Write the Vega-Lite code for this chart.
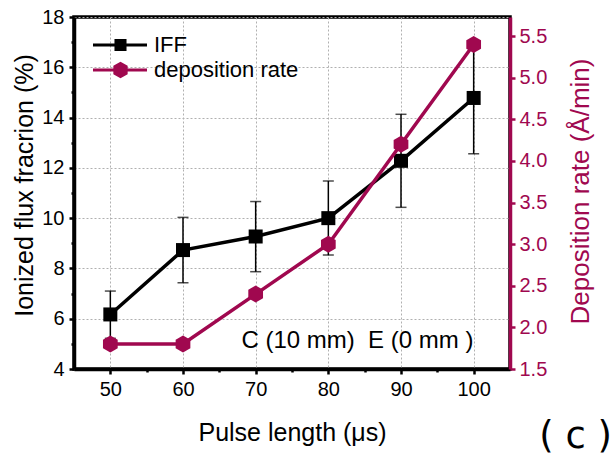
{
  "$schema": "https://vega.github.io/schema/vega-lite/v6.json",
  "width": 436,
  "height": 352,
  "autosize": {"type": "none"},
  "padding": {"left": 74, "top": 17, "right": 106, "bottom": 94},
  "background": "white",
  "config": {
    "font": "Liberation Sans",
    "view": {"stroke": "black", "strokeWidth": 3.5},
    "axis": {"titleFontWeight": "normal", "labelFont": "Liberation Sans", "titleFont": "Liberation Sans"}
  },
  "title": {
    "text": "( c )",
    "orient": "bottom",
    "anchor": "end",
    "frame": "group",
    "font": "DejaVu Sans",
    "fontSize": 37,
    "fontWeight": "normal",
    "color": "black",
    "dx": 102,
    "offset": -26
  },
  "data": {
    "values": [
      {"x": 50, "iff": 6.17, "lo": 5.22, "hi": 7.1, "dep": 1.8},
      {"x": 60, "iff": 8.73, "lo": 7.43, "hi": 10.03, "dep": 1.8},
      {"x": 70, "iff": 9.27, "lo": 7.87, "hi": 10.66, "dep": 2.4},
      {"x": 80, "iff": 10.0, "lo": 8.53, "hi": 11.48, "dep": 3.0},
      {"x": 90, "iff": 12.28, "lo": 10.43, "hi": 14.13, "dep": 4.2},
      {"x": 100, "iff": 14.78, "lo": 12.56, "hi": 17.0, "dep": 5.4}
    ]
  },
  "layer": [
    {
      "layer": [
        {
          "layer": [
            {
              "mark": {"type": "rule", "color": "black", "strokeWidth": 1.5},
              "encoding": {
                "x": {
                  "field": "x", "type": "quantitative",
                  "scale": {"domain": [45, 105], "nice": false, "zero": false},
                  "axis": {
                    "title": "Pulse length (\u03bcs)",
                    "values": [50, 60, 70, 80, 90, 100],
                    "domainColor": "black", "domainWidth": 3.5,
                    "tickColor": "black", "tickWidth": 2.5, "tickSize": 5,
                    "labelFontSize": 20, "labelColor": "black", "labelPadding": 5,
                    "titleFontSize": 25, "titleColor": "black",
                    "titleBaseline": "alphabetic", "titleY": 71,
                    "grid": true, "gridColor": "#b0b0b0", "gridDash": [2, 2], "gridWidth": 1
                  }
                },
                "y": {
                  "field": "lo", "type": "quantitative",
                  "scale": {"domain": [4, 18], "nice": false, "zero": false},
                  "axis": {
                    "title": "Ionized flux fracrion (%)",
                    "values": [4, 6, 8, 10, 12, 14, 16, 18],
                    "domainColor": "black", "domainWidth": 3.5,
                    "tickColor": "black", "tickWidth": 2.5, "tickSize": 5,
                    "labelFontSize": 20, "labelColor": "black", "labelPadding": 5,
                    "titleFontSize": 25, "titleColor": "black",
                    "titleX": -50, "titleY": 168, "titleBaseline": "middle", "titleAngle": 270,
                    "grid": true, "gridColor": "#b0b0b0", "gridDash": [2, 2], "gridWidth": 1
                  }
                },
                "y2": {"field": "hi"}
              }
            },
            {
              "mark": {"type": "tick", "orient": "horizontal", "color": "black", "size": 11, "thickness": 1.5},
              "encoding": {
                "x": {"field": "x", "type": "quantitative"},
                "y": {"field": "lo", "type": "quantitative"}
              }
            },
            {
              "mark": {"type": "tick", "orient": "horizontal", "color": "black", "size": 11, "thickness": 1.5},
              "encoding": {
                "x": {"field": "x", "type": "quantitative"},
                "y": {"field": "hi", "type": "quantitative"}
              }
            },
            {
              "mark": {"type": "line", "strokeWidth": 3.5},
              "encoding": {
                "x": {"field": "x", "type": "quantitative"},
                "y": {"field": "iff", "type": "quantitative"},
                "color": {
                  "datum": "IFF",
                  "scale": {"domain": ["IFF", "deposition rate"], "range": ["#000000", "#a0084f"]},
                  "legend": {
                    "title": null,
                    "orient": "top-left",
                    "offset": 14,
                    "padding": 0,
                    "rowPadding": 0,
                    "symbolSize": 784,
                    "labelFontSize": 22,
                    "labelColor": "black",
                    "labelOffset": 38,
                    "labelBaseline": "middle",
                    "symbolType": "M-0.643,-0.107H3.214V0.107H-0.643Z M0.891,-0.43H1.751V0.43H0.891Z",
                    "encode": {
                      "symbols": {
                        "update": {
                          "shape": {"signal": "datum.value === 'IFF' ? 'M-0.643,-0.107H3.214V0.107H-0.643Z M0.891,-0.43H1.751V0.43H0.891Z' : 'M-0.643,-0.107H3.214V0.107H-0.643Z M1.321,-0.59L1.832,-0.295L1.832,0.295L1.321,0.59L0.81,0.295L0.81,-0.295Z'"},
                          "fill": {"signal": "datum.value === 'IFF' ? '#000000' : '#a0084f'"},
                          "stroke": {"value": "transparent"},
                          "strokeWidth": {"value": 0},
                          "opacity": {"value": 1}
                        }
                      }
                    }
                  }
                }
              }
            },
            {
              "mark": {"type": "point", "shape": "square", "filled": true, "color": "black", "opacity": 1, "size": 196},
              "encoding": {
                "x": {"field": "x", "type": "quantitative"},
                "y": {"field": "iff", "type": "quantitative"}
              }
            },
            {
              "data": {"values": [{"note": "C (10 mm)\u00a0\u00a0E (0 mm )"}]},
              "mark": {"type": "text", "fontSize": 24, "color": "black", "align": "center", "baseline": "alphabetic"},
              "encoding": {
                "text": {"field": "note"},
                "x": {"datum": 84.0, "type": "quantitative"},
                "y": {"datum": 4.84, "type": "quantitative"}
              }
            }
          ]
        },
        {
          "layer": [
            {
              "mark": {"type": "line", "strokeWidth": 3.5},
              "encoding": {
                "x": {"field": "x", "type": "quantitative"},
                "y": {
                  "field": "dep", "type": "quantitative",
                  "scale": {"domain": [1.5, 5.73], "nice": false, "zero": false},
                  "axis": {
                    "orient": "right",
                    "title": "Deposition rate (\u00c5/min)",
                    "values": [1.5, 2.0, 2.5, 3.0, 3.5, 4.0, 4.5, 5.0, 5.5],
                    "format": ".1f",
                    "domainColor": "#a0084f", "domainWidth": 3.5,
                    "tickColor": "#a0084f", "tickWidth": 2.5, "tickSize": 5,
                    "labelFontSize": 20, "labelColor": "#a0084f", "labelPadding": 4,
                    "titleFontSize": 26, "titleColor": "#a0084f",
                    "titleAngle": 270, "titleX": 70, "titleY": 174, "titleBaseline": "middle",
                    "grid": false
                  }
                },
                "color": {"datum": "deposition rate"}
              }
            },
            {
              "mark": {"type": "point", "shape": "M0,-1L0.866,-0.5L0.866,0.5L0,1L-0.866,0.5L-0.866,-0.5Z", "filled": true, "color": "#a0084f", "opacity": 1, "size": 289},
              "encoding": {
                "x": {"field": "x", "type": "quantitative"},
                "y": {"field": "dep", "type": "quantitative"}
              }
            }
          ]
        }
      ],
      "resolve": {"scale": {"y": "independent"}}
    },
    {
      "mark": {"type": "point", "opacity": 0},
      "encoding": {
        "x": {
          "field": "x", "type": "quantitative",
          "scale": {"domain": [45, 105], "nice": false, "zero": false},
          "axis": {"orient": "bottom", "title": null, "values": [55, 65, 75, 85, 95], "labels": false, "domain": false, "grid": false, "tickColor": "black", "tickWidth": 2.5, "tickSize": 3}
        },
        "y": {
          "field": "iff", "type": "quantitative",
          "scale": {"domain": [4, 18], "nice": false, "zero": false},
          "axis": {"orient": "left", "title": null, "values": [5, 7, 9, 11, 13, 15, 17], "labels": false, "domain": false, "grid": false, "tickColor": "black", "tickWidth": 2.5, "tickSize": 3}
        }
      }
    }
  ],
  "resolve": {"scale": {"x": "independent", "y": "independent"}}
}
